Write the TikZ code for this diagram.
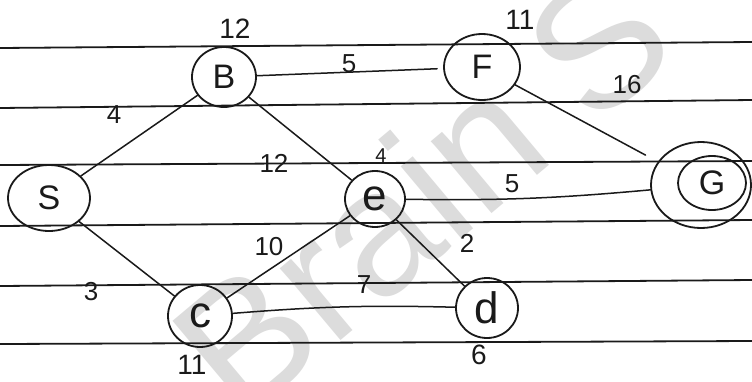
\documentclass[tikz,border=0pt]{standalone}
\usepackage{fontspec}
\setmainfont{Liberation Sans}
\usetikzlibrary{shapes.geometric}
\definecolor{wm}{HTML}{DCDCDC}
\definecolor{ink}{HTML}{1A1A1A}
\begin{document}
\begin{tikzpicture}[x=1pt,y=-1pt,
  vtx/.style={draw=ink,line width=1.8pt,ellipse,inner sep=0pt,font=\fontsize{34}{34}\selectfont,text=ink},
  edge/.style={draw=ink,line width=1.5pt,line cap=round},
  rule/.style={draw=ink,line width=1.8pt},
  wlab/.style={font=\fontsize{26}{26}\selectfont,text=ink,inner sep=0pt},
  vlab/.style={font=\fontsize{28}{28}\selectfont,text=ink,inner sep=0pt}]
\useasboundingbox (0,0) rectangle (752,381);
\fill[white] (0,0) rectangle (752,381);
% watermark
\node[wm,font=\fontsize{178}{178}\selectfont,rotate=40,anchor=base west,inner sep=0pt] (wmark) at (240,425) {Brain\kern0.25em S};
% ruled lines
\coordinate (l1a) at (0,48);  \coordinate (l1b) at (752,42);
\coordinate (l2a) at (0,108); \coordinate (l2b) at (752,100);
\coordinate (l3a) at (0,165); \coordinate (l3b) at (752,161);
\coordinate (l4a) at (0,226); \coordinate (l4b) at (752,220);
\coordinate (l5a) at (0,286); \coordinate (l5b) at (752,280);
\coordinate (l6a) at (0,344); \coordinate (l6b) at (752,341);
\foreach \i in {1,...,6} {\draw[rule] (l\i a) -- (l\i b);}
% vertices
\node[vtx,minimum width=64pt,minimum height=60pt] (B) at (224,77) {B};
\node[vtx,minimum width=76pt,minimum height=66pt] (F) at (482,67) {F};
\node[vtx,minimum width=82pt,minimum height=66pt] (S) at (49,198) {S};
\node[vtx,minimum width=60pt,minimum height=56pt,font=\fontsize{44}{44}\selectfont] (e) at (375,199) {e};
\node[vtx,minimum width=100pt,minimum height=86pt] (G) at (701,185) {};
\node[vtx,minimum width=68pt,minimum height=54pt] (Gi) at (712,183) {G};
\node[vtx,minimum width=64pt,minimum height=62pt,font=\fontsize{44}{44}\selectfont] (c) at (200,316) {c};
\node[vtx,minimum width=62pt,minimum height=60pt,font=\fontsize{44}{44}\selectfont] (d) at (487,308) {d};
% edges
\draw[edge] (S) -- (B);
\draw[edge] (B) -- (e);
\draw[edge,shorten >=6pt] (B) -- (F);
\draw[edge,shorten >=14pt] (F) -- (G);
\draw[edge] (e) to[bend right=3] (G);
\draw[edge] (e) -- (d);
\draw[edge] (c) -- (e);
\draw[edge] (c) to[bend left=3] (d);
\draw[edge] (S) -- (c);
% edge weights
\node[wlab] (wSB) at (114,115) {4};
\node[wlab] (wBF) at (349,64) {5};
\node[wlab] (wBe) at (274,163) {12};
\node[wlab] (wFG) at (627,85) {16};
\node[wlab] (weG) at (512,184) {5};
\node[wlab] (wed) at (467,243) {2};
\node[wlab] (wce) at (269,247) {10};
\node[wlab] (wcd) at (364,285) {7};
\node[wlab] (wSc) at (91,292) {3};
% heuristic values
\node[vlab] (hB) at (235,29) {12};
\node[vlab] (hF) at (520,20) {11};
\node[wlab,font=\fontsize{20}{20}\selectfont] (he) at (381,156) {4};
\node[vlab] (hd) at (479,355) {6};
\node[vlab] (hc) at (192,365) {11};
\end{tikzpicture}
\end{document}
